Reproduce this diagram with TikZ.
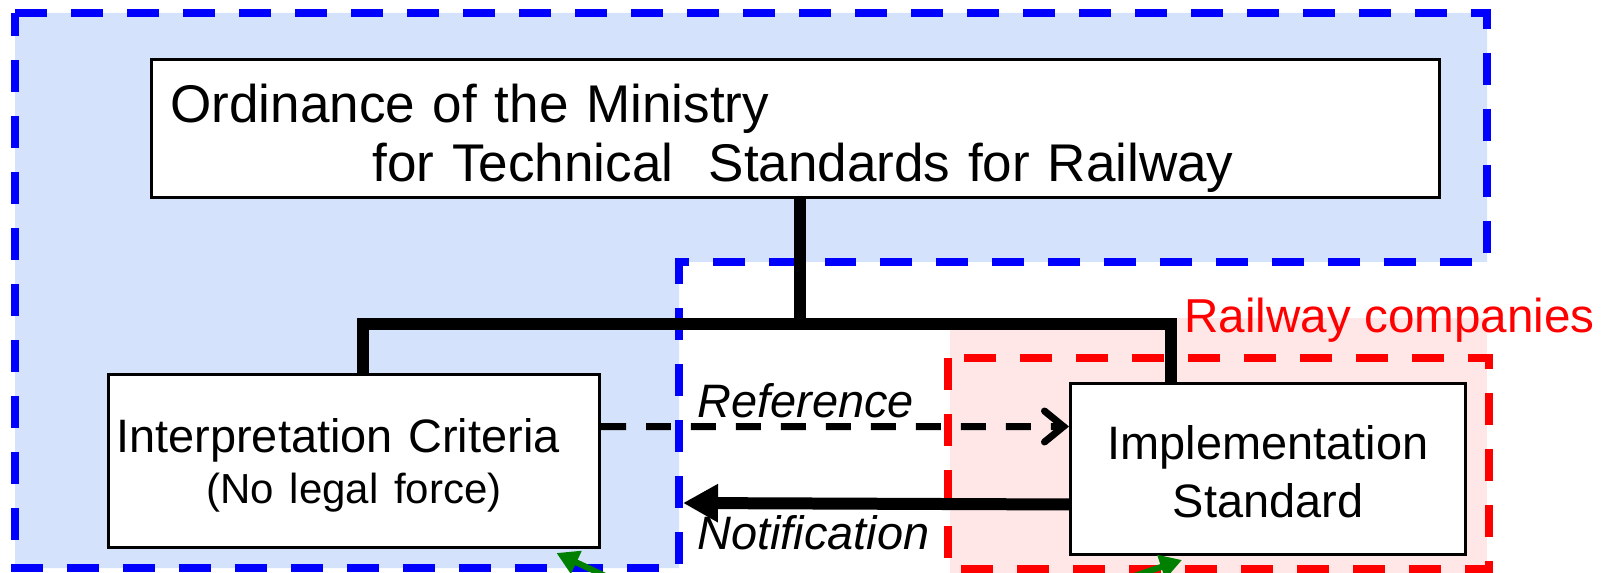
\documentclass[tikz,border=0pt]{standalone}
\usepackage{fontspec}
\setmainfont{Liberation Sans}
\usetikzlibrary{arrows.meta,positioning,calc}
\definecolor{zoneblue}{RGB}{212,227,251}
\definecolor{zonered}{RGB}{255,231,231}
\definecolor{vertA}{RGB}{0,128,0}
\newdimen\pxu \pxu=0.02cm
\tikzset{
  boxe/.style={rectangle, draw=black, line width=3\pxu, fill=white, inner ysep=0pt,
               inner xsep=0pt, anchor=north west},
  zone/.style={draw=#1, line width=0.15cm, dash pattern=on 0.64cm off 0.48cm},
  tree/.style={line width=0.24cm, draw=black},
  refarr/.style={-{Straight Barb[length=0.38cm,width=0.62cm,line cap=round]}, line width=0.14cm,
                 dash pattern=on 0.5cm off 0.4cm},
  notarr/.style={-{Triangle[length=0.7cm,width=0.72cm]}, line width=0.24cm},
  garr/.style={-{Triangle[length=0.44cm,width=0.48cm]}, line width=0.12cm, draw=vertA, fill=vertA},
  lbl/.style={anchor=base west, inner sep=0pt, font=\fontsize{26.7pt}{29pt}\selectfont\itshape},
}
\begin{document}
\begin{tikzpicture}[x=0.02cm, y=-0.02cm]
  \useasboundingbox (0,0) rectangle (1608,573);
  % zones
  \fill[zoneblue] (15,13) -- (1487,13) -- (1487,262) -- (679,262) -- (679,568) -- (15,568) -- cycle;
  \fill[zonered] (950,318) rectangle (1487,590);
  \draw[zone=blue] (15,13) -- (1487,13) -- (1487,262) -- (679,262) -- (679,568) -- (15,568) -- cycle;
  \draw[zone=red] (948,358) rectangle (1489,569);

  \node[boxe, minimum width=1288\pxu, minimum height=138\pxu, text width=1250\pxu, inner xsep=19\pxu,
        align=left, font=\fontsize{30.2pt}{33.6pt}\selectfont] (ord) at (150,58)
        {\rule{0pt}{60\pxu}Ordinance of the Ministry\\\hspace*{202\pxu}for Technical\ \ Standards for Railway\rule[-13\pxu]{0pt}{13\pxu}};
  \node[boxe, minimum width=491\pxu, minimum height=173\pxu, text width=491\pxu, align=center,
        font=\fontsize{26.7pt}{29pt}\selectfont] (interp) at (107,373)
        {\rule{0pt}{44\pxu}Interpretation Criteria\rule{32\pxu}{0pt}\\{\fontsize{23.9pt}{29pt}\selectfont (No legal force)}\rule[-10\pxu]{0pt}{10\pxu}};
  \node[boxe, minimum width=395\pxu, minimum height=171\pxu, text width=395\pxu, align=center,
        font=\fontsize{26.7pt}{33pt}\selectfont] (impl) at (1069,382)
        {\rule{0pt}{50\pxu}Implementation\\Standard\rule[-11\pxu]{0pt}{11\pxu}};

  \node[lbl] (reflbl) at (697,418) {Reference};
  \node[lbl] (notlbl) at (697,549) {Notification};
  \node[lbl, font=\fontsize{27.1pt}{29pt}\selectfont, text=red] (rail) at (1184,333) {Railway companies};

  % connectors
  \draw[tree] ([xshift=0.08cm]ord.south) -- ([xshift=0.08cm]ord.south |- 0,324) coordinate (hub);
  \draw[tree] ([xshift=0.18cm]interp.north) |- (hub) -| ([xshift=-1.94cm]impl.north);
  \draw[refarr] ([yshift=0.69cm]interp.east) -- ([yshift=0.85cm]impl.west);
  \coordinate (nottip) at (683,503);
  \draw[notarr] ([yshift=-0.71cm]impl.west) -- (nottip);
  \coordinate (g1) at (618,582);
  \coordinate (g2) at (1110,584);
  \draw[garr] (g1) -- ([xshift=4.05cm,yshift=-0.08cm]interp.south);
  \draw[garr] (g2) -- ([xshift=-1.72cm,yshift=-0.08cm]impl.south);
\end{tikzpicture}
\end{document}
